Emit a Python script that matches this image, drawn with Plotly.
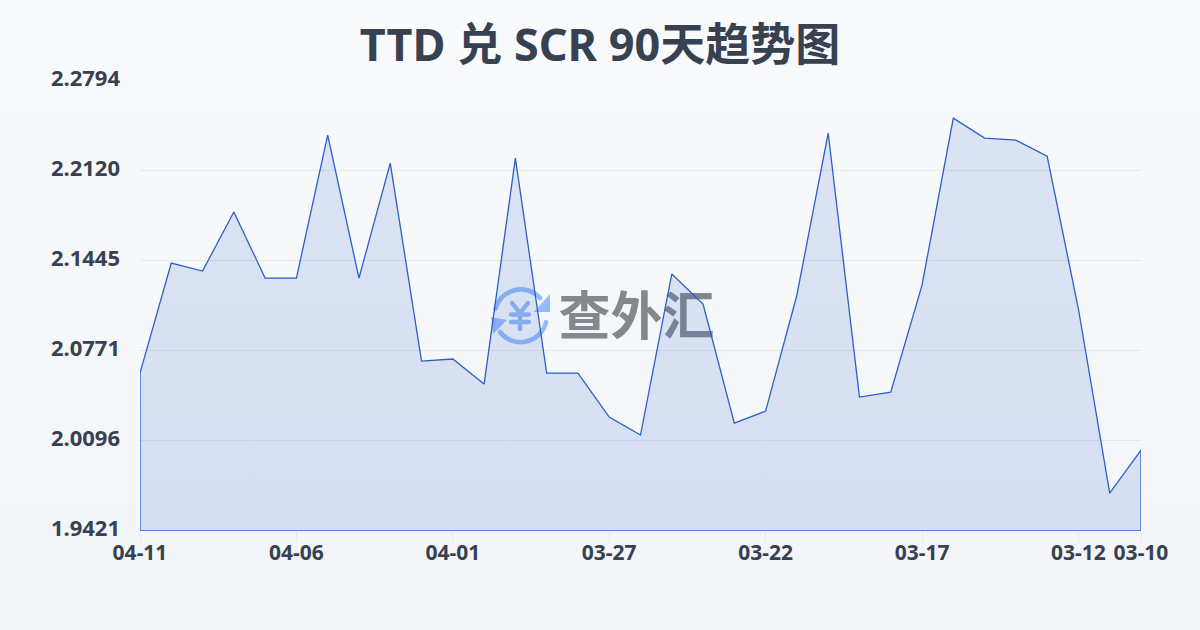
import base64
import plotly.graph_objects as go

dates = ["04-11","04-10","04-09","04-08","04-07","04-06","04-05","04-04","04-03","04-02","04-01",
         "03-31","03-30","03-29","03-28","03-27","03-26","03-25","03-24","03-23","03-22",
         "03-21","03-20","03-19","03-18","03-17","03-16","03-15","03-14","03-13","03-12","03-11","03-10"]
rates = [2.0605,2.1429,2.1369,2.1812,2.1317,2.1317,2.2389,2.1317,2.2179,2.0695,2.0710,
         2.0522,2.2216,2.0605,2.0605,2.0275,2.0140,2.1347,2.1122,2.0230,2.0320,
         2.1190,2.2404,2.0425,2.0462,2.1264,2.2516,2.2366,2.2351,2.2231,2.1085,1.9705,2.0028]
y_ticks = [1.9421,2.0096,2.0771,2.1445,2.2120,2.2794]
x_tick_labels = ["04-11","04-06","04-01","03-27","03-22","03-17","03-12","03-10"]
title_text = "TTD 兑 SCR 90天趋势图"
watermark = "查外汇"

FONT = "'Noto Sans','Noto Sans CJK SC',sans-serif"
INK = "#374151"
LINE = "#2a60c8"
GRID = "#e5e7eb"
LEFT, RIGHT, TOP, BOTTOM = 140, 1141, 81, 531
PW, PH = RIGHT - LEFT, BOTTOM - TOP

logo_blue = "#93bbf8"
svg = f'''<svg xmlns="http://www.w3.org/2000/svg" width="1200" height="630" viewBox="0 0 1200 630">
<defs><linearGradient id="g" x1="0" y1="0" x2="0" y2="1"><stop offset="0" stop-color="#f9fafc"/><stop offset="1" stop-color="#f2f4f7"/></linearGradient></defs>
<rect width="1200" height="630" fill="url(#g)"/>
<g fill="none" stroke="{logo_blue}" stroke-width="4.6" stroke-linecap="round" stroke-linejoin="round">
<path d="M495.5 309 A26 26 0 0 1 540 298"/>
<path d="M500 332 A26 26 0 0 0 546 322"/>
<path d="M512 303 L520 313 L528 303 M520 313 V329 M511 314.5 H529 M511 322 H529" stroke-width="4.4"/>
</g>
<path d="M550 294 V312 H534 Z" fill="{logo_blue}"/>
<path d="M491 317 L507 320 L493 334 Z" fill="{logo_blue}"/>
</svg>'''
bg_uri = "data:image/svg+xml;base64," + base64.b64encode(svg.encode()).decode()

idx = list(range(len(dates)))
base = y_ticks[0]
tick_idx = [dates.index(d) for d in x_tick_labels]

fig = go.Figure()
fig.add_trace(go.Scatter(
    x=[15.87], y=[2.0990], mode="text", text=[watermark], hoverinfo="skip", showlegend=False,
    textposition="middle center", cliponaxis=False,
    textfont=dict(family="'Noto Sans CJK SC',sans-serif", size=52, color="#84878e", weight=700),
))
fig.add_trace(go.Scatter(
    x=[idx[0]] + idx + [idx[-1], idx[0]],
    y=[base] + rates + [base, base],
    mode="lines", fill="toself", fillcolor="rgba(45,90,205,0.14)",
    line=dict(color=LINE, width=1.3), showlegend=False, cliponaxis=False,
))

fig.update_layout(
    width=1200, height=630, autosize=False,
    margin=dict(l=LEFT, r=1200 - RIGHT, t=TOP, b=630 - BOTTOM),
    paper_bgcolor="rgba(0,0,0,0)", plot_bgcolor="rgba(0,0,0,0)",
    title=dict(text=title_text, x=0.5, xanchor="center", xref="container", y=0.928, yanchor="middle",
               font=dict(family=FONT, size=45, color=INK, weight=700)),
    images=[dict(source=bg_uri, xref="paper", yref="paper", x=-LEFT / PW, y=BOTTOM / PH,
                 sizex=1200 / PW, sizey=630 / PH, sizing="stretch", layer="below",
                 xanchor="left", yanchor="top")],
    xaxis=dict(range=[idx[0], idx[-1]], tickmode="array", tickvals=tick_idx, ticktext=x_tick_labels,
               showgrid=False, zeroline=False, showline=False,
               ticks="outside", ticklen=10, tickcolor=GRID, tickwidth=1, ticklabelstandoff=-7,
               tickfont=dict(family=FONT, size=21, color=INK, weight=700)),
    yaxis=dict(range=[y_ticks[0], y_ticks[-1]], tickmode="array", tickvals=y_ticks,
               ticktext=[f"{v:.4f}" for v in y_ticks],
               showgrid=True, gridcolor=GRID, gridwidth=1, zeroline=False, showline=False,
               ticks="", ticklabelstandoff=19, ticklabelshift=-3,
               tickfont=dict(family=FONT, size=22, color=INK, weight=700)),
)
fig.write_html("out.html", config={"displayModeBar": False},
               post_script="document.body.style.margin='0';document.body.style.overflow='hidden';")
